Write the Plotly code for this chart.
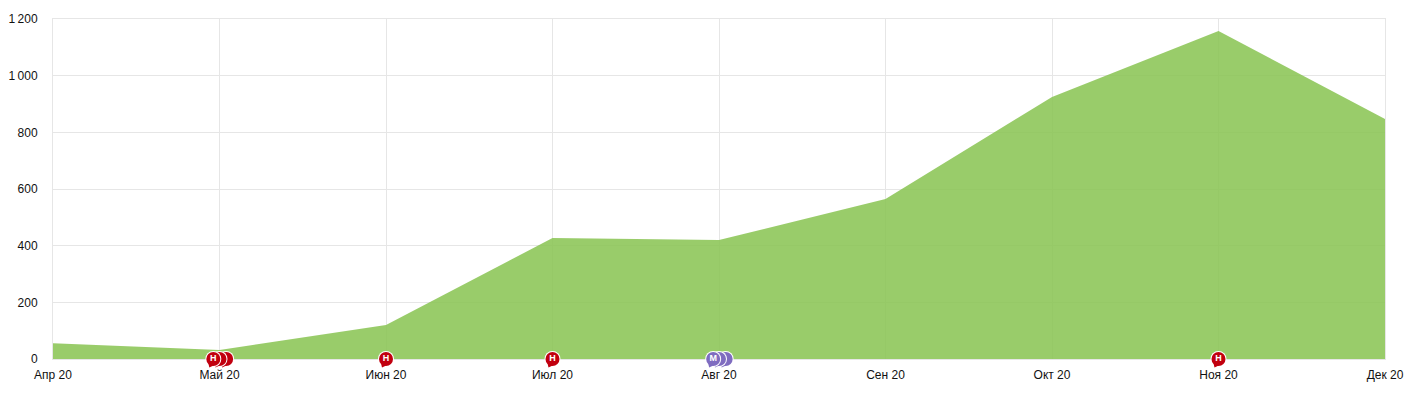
import plotly.graph_objects as go

months = ["Апр 20", "Май 20", "Июн 20", "Июл 20", "Авг 20", "Сен 20", "Окт 20", "Ноя 20", "Дек 20"]
month_pos = [0, 1, 2, 3, 4, 5, 6, 7, 8]
values = [56, 32, 120, 427, 420, 565, 925, 1158, 847]
y_ticks = [0, 200, 400, 600, 800, 1000, 1200]
y_labels = ["0", "200", "400", "600", "800", "1\u2009000", "1\u2009200"]

# flags, drawn from back to front
flag_x_red = [1.04, 1.0, 0.963, 2.0, 3.0, 7.0]
flag_text_red = ["", "", "Н", "Н", "Н", "Н"]
flag_x_purple = [4.04, 4.0, 3.965]
flag_text_purple = ["", "", "М"]

RED = "#c1000f"
PURPLE = "#7f6cc0"
GREEN = "rgba(135,195,80,0.85)"
GRID = "#e6e6e6"
FONT = "Liberation Sans"

fig = go.Figure()
fig.add_trace(go.Scatter(
    x=month_pos, y=values, mode="lines", fill="tozeroy",
    fillcolor=GREEN, line=dict(color=GREEN, width=0), hoverinfo="skip",
))


def add_flags(xs, texts, color):
    for x, t in zip(xs, texts):
        # white halo: tail + disc
        fig.add_trace(go.Scatter(
            x=[x, x], y=[0, 0], mode="markers", cliponaxis=False,
            marker=dict(size=[7, 16], color="white", opacity=1, line=dict(width=0),
                        symbol=["triangle-down", "circle"], angle=[25, 0], standoff=[7, 0]),
        ))
        # coloured tail + disc
        fig.add_trace(go.Scatter(
            x=[x, x], y=[0, 0], mode="markers", cliponaxis=False,
            marker=dict(size=[5, 14], color=color, opacity=1, line=dict(width=0),
                        symbol=["triangle-down", "circle"], angle=[25, 0], standoff=[7, 0]),
        ))
        # letter on top, as its own trace
        if t:
            fig.add_trace(go.Scatter(
                x=[x], y=[0], mode="text", cliponaxis=False,
                text=[t], textposition="middle center",
                textfont=dict(family=FONT, size=9, color="white", weight="bold"),
            ))


add_flags(flag_x_red, flag_text_red, RED)
add_flags(flag_x_purple, flag_text_purple, PURPLE)

axis_common = dict(
    tickmode="array", showgrid=True, gridcolor=GRID, gridwidth=1, zeroline=False,
    ticks="", showline=True, mirror=True, linecolor=GRID, linewidth=1, automargin=False,
    layer="below traces",
)

fig.update_layout(
    width=1413, height=394, showlegend=False,
    margin=dict(l=53, r=28, t=19, b=35),
    paper_bgcolor="white", plot_bgcolor="white",
    font=dict(family=FONT, size=12, color="#111111"),
    xaxis=dict(range=[0, 8], tickvals=month_pos, ticktext=months, ticklabelstandoff=5, **axis_common),
    yaxis=dict(range=[0, 1200], tickvals=y_ticks, ticktext=y_labels, ticklabelstandoff=12, **axis_common),
)

fig.write_html("out.html", config={"displayModeBar": False},
               post_script="document.body.style.margin='0';")
